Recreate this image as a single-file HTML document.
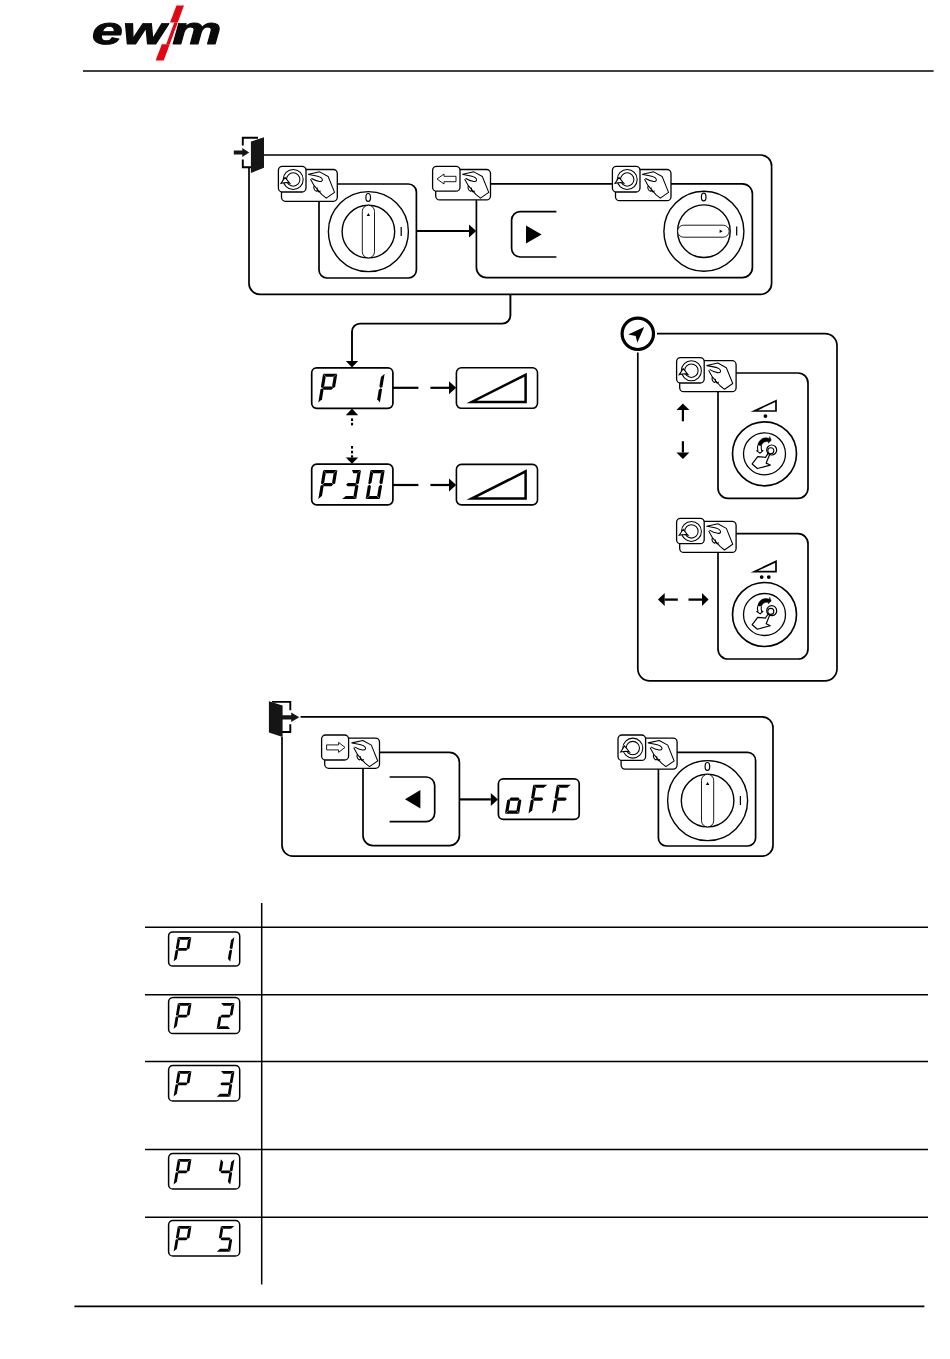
<!DOCTYPE html>
<html><head><meta charset="utf-8"><title>ewm</title>
<style>html,body{margin:0;padding:0;background:#fff;}body{width:950px;height:1359px;overflow:hidden;font-family:"Liberation Sans",sans-serif;}svg{display:block;}</style>
</head><body>
<svg width="950" height="1359" viewBox="0 0 950 1359">
<rect width="950" height="1359" fill="#fff"/>
<g id="logo">
<path transform="translate(91.80,44.00) scale(0.02723,-0.01904)" d="M358 476Q351 438 351 387Q351 281 397.5 224.5Q444 168 535 168Q682 168 748 337L993 263Q918 104 807.0 42.0Q696 -20 516 -20Q303 -20 183.0 95.5Q63 211 63 418Q63 625 135.0 780.5Q207 936 339.5 1019.0Q472 1102 646 1102Q855 1102 968.5 994.5Q1082 887 1082 691Q1082 592 1058 476ZM822 663 825 719Q825 826 775.5 875.0Q726 924 646 924Q550 924 484.5 857.5Q419 791 391 663Z" fill="#0a0a0a" stroke="#0a0a0a" stroke-width="47.3" stroke-linejoin="round"/>
<path transform="translate(122.82,44.00) scale(0.02723,-0.01904)" d="M1207 0H910L867 660L862 890Q809 748 767 658L465 0H168L99 1082H357L371 386V255L398 323L450 446L744 1082H1045L1087 446L1092 255L1145 387L1436 1082H1702Z" fill="#0a0a0a" stroke="#0a0a0a" stroke-width="47.3" stroke-linejoin="round"/>
<path transform="translate(172.20,44.00) scale(0.02704,-0.01904)" d="M1322 892Q1231 892 1164.0 815.0Q1097 738 1071 607L952 0H673L796 635Q813 726 813 771Q813 892 687 892Q599 892 530.5 816.5Q462 741 435 604L317 0H35L201 851Q221 946 240 1082H512Q512 1071 501.5 1004.5Q491 938 484 897H487Q564 1013 638.5 1057.0Q713 1101 815 1101Q939 1101 1011.0 1041.5Q1083 982 1097 869Q1177 994 1259.5 1047.5Q1342 1101 1451 1101Q1589 1101 1662.5 1028.0Q1736 955 1736 817Q1736 753 1715 653L1587 0H1308L1430 627Q1448 717 1448 766V771Q1445 892 1322 892Z" fill="#0a0a0a" stroke="#0a0a0a" stroke-width="47.3" stroke-linejoin="round"/>
<polygon points="176.50,5.50 184.30,5.50 164.00,60.60 155.60,60.60" fill="#fff" stroke="none" stroke-width="0"/>
<polygon points="176.50,5.50 184.00,5.50 177.70,22.60 170.01,22.60" fill="#e30613" stroke="none" stroke-width="0"/>
<polygon points="174.24,22.60 177.70,22.60 169.74,44.20 166.18,44.20" fill="#e30613" stroke="none" stroke-width="0"/>
<polygon points="161.82,44.20 169.74,44.20 163.70,60.60 155.60,60.60" fill="#e30613" stroke="none" stroke-width="0"/>
</g>
<line x1="83.00" y1="71.00" x2="933.60" y2="71.00" stroke="#000" stroke-width="1.6" />
<g id="top">
<path d="M264 155 H760.6 A11 11 0 0 1 771.6 166 V283.4 A11 11 0 0 1 760.6 294.4 H260 A11 11 0 0 1 249 283.4 V168" fill="none" stroke="#000" stroke-width="1.7" />
<path d="M258 137.8 H242.8 V145.4 M242.8 159.6 V167.2 H252" fill="none" stroke="#000" stroke-width="1.9" />
<polygon points="250.90,141.60 264.00,137.20 264.00,167.70 250.90,172.90" fill="#151515" stroke="none" stroke-width="0"/>
<polygon points="233.80,150.40 242.30,150.40 242.30,148.00 249.20,152.50 242.30,157.00 242.30,154.60 233.80,154.60" fill="#151515" stroke="none" stroke-width="0"/>
<path d="M337 184 H408.4 A8 8 0 0 1 416.4 192 V270 A8 8 0 0 1 408.4 278 H327 A8 8 0 0 1 319 270 V200" fill="none" stroke="#000" stroke-width="1.7" />
<rect x="281.50" y="169.50" width="55.80" height="31.80" rx="4" ry="4" fill="#fff" stroke="#000" stroke-width="1.3"/><rect x="278.40" y="166.40" width="27.60" height="25.60" rx="4" ry="4" fill="#fff" stroke="#000" stroke-width="1.3"/><circle cx="293.20" cy="179.50" r="10" fill="none" stroke="#000" stroke-width="1.05"/><circle cx="293.20" cy="179.50" r="6.7" fill="none" stroke="#000" stroke-width="1.05"/><path d="M281.00 183.40 L285.00 177.40 L289.80 183.40 L287.00 182.60 L283.80 182.80 Z" fill="#fff" stroke="#000" stroke-width="1.05" /><path d="M308.61 174.28 L319.66 171.85 L328.14 176.50 L334.55 192.34 L326.30 198.09 L321.88 194.55 L314.14 185.71 L310.67 179.44 M308.61 174.43 C312.30 175.39 317.45 175.39 320.77 177.45 C323.50 179.44 322.61 181.87 319.52 181.43 C316.72 180.99 313.77 179.81 311.71 178.48 M314.14 185.71 C313.18 187.92 314.36 190.72 316.35 191.31 L317.60 189.98 M317.31 188.06 C316.86 189.98 317.75 191.75 319.07 192.04 L320.25 191.01" fill="none" stroke="#000" stroke-width="1.05" stroke-linejoin="round" stroke-linecap="round"/>
<circle cx="368.4" cy="231.6" r="40" fill="#fff" stroke="#000" stroke-width="1.4"/><circle cx="368.4" cy="231.6" r="26.3" fill="#fff" stroke="#000" stroke-width="1.4"/><rect x="362.30" y="205.30" width="12.2" height="52.6" rx="6.1" fill="#fff" stroke="#000" stroke-width="0.9"/><polygon points="366.70,215.90 368.40,212.90 370.10,215.90" fill="#000" stroke="none" stroke-width="0"/><ellipse cx="368.2" cy="197.40" rx="2.3" ry="3.9" fill="none" stroke="#000" stroke-width="1.2"/><line x1="401.20" y1="227.00" x2="401.20" y2="236.00" stroke="#000" stroke-width="1.25" />
<line x1="416.40" y1="231.00" x2="469.00" y2="231.00" stroke="#000" stroke-width="2.2" /><polygon points="476.20,231.00 469.00,224.50 469.00,237.50" fill="#000" stroke="none" stroke-width="0"/>
<path d="M490 183.8 H742.4 A10 10 0 0 1 752.4 193.8 V267.6 A10 10 0 0 1 742.4 277.6 H486.4 A10 10 0 0 1 476.4 267.6 V199" fill="none" stroke="#000" stroke-width="1.7" />
<rect x="435.70" y="169.50" width="54.80" height="30.40" rx="4" ry="4" fill="#fff" stroke="#000" stroke-width="1.3"/><rect x="432.60" y="166.40" width="27.40" height="24.80" rx="4" ry="4" fill="#fff" stroke="#000" stroke-width="1.3"/><path d="M437.00 179.00 L444.00 174.00 L444.00 176.30 L456.00 176.30 L456.00 181.70 L444.00 181.70 L444.00 184.00 Z" fill="#fff" stroke="#000" stroke-width="0.9" /><path d="M462.81 174.28 L473.86 171.85 L482.34 176.50 L488.75 192.34 L480.50 198.09 L476.08 194.55 L468.34 185.71 L464.87 179.44 M462.81 174.43 C466.50 175.39 471.65 175.39 474.97 177.45 C477.70 179.44 476.81 181.87 473.72 181.43 C470.92 180.99 467.97 179.81 465.91 178.48 M468.34 185.71 C467.38 187.92 468.56 190.72 470.55 191.31 L471.80 189.98 M471.51 188.06 C471.06 189.98 471.95 191.75 473.27 192.04 L474.45 191.01" fill="none" stroke="#000" stroke-width="1.05" stroke-linejoin="round" stroke-linecap="round"/>
<rect x="615.50" y="169.50" width="55.50" height="31.20" rx="4" ry="4" fill="#fff" stroke="#000" stroke-width="1.3"/><rect x="612.40" y="166.40" width="27.60" height="25.60" rx="4" ry="4" fill="#fff" stroke="#000" stroke-width="1.3"/><circle cx="627.20" cy="179.50" r="10" fill="none" stroke="#000" stroke-width="1.05"/><circle cx="627.20" cy="179.50" r="6.7" fill="none" stroke="#000" stroke-width="1.05"/><path d="M615.00 183.40 L619.00 177.40 L623.80 183.40 L621.00 182.60 L617.80 182.80 Z" fill="#fff" stroke="#000" stroke-width="1.05" /><path d="M642.61 174.28 L653.66 171.85 L662.14 176.50 L668.55 192.34 L660.30 198.09 L655.88 194.55 L648.14 185.71 L644.67 179.44 M642.61 174.43 C646.30 175.39 651.45 175.39 654.77 177.45 C657.50 179.44 656.61 181.87 653.52 181.43 C650.72 180.99 647.77 179.81 645.71 178.48 M648.14 185.71 C647.18 187.92 648.36 190.72 650.35 191.31 L651.60 189.98 M651.31 188.06 C650.86 189.98 651.75 191.75 653.07 192.04 L654.25 191.01" fill="none" stroke="#000" stroke-width="1.05" stroke-linejoin="round" stroke-linecap="round"/>
<path d="M556.4 211.6 H520.1 A8.5 8.5 0 0 0 511.6 220.1 V248.5 A8.5 8.5 0 0 0 520.1 257 H556.4" fill="none" stroke="#000" stroke-width="1.7" />
<polygon points="526.00,225.60 541.60,234.60 526.00,243.60" fill="#000" stroke="none" stroke-width="0"/>
<circle cx="703.9" cy="231.2" r="40" fill="#fff" stroke="#000" stroke-width="1.4"/><circle cx="703.9" cy="231.2" r="26.3" fill="#fff" stroke="#000" stroke-width="1.4"/><rect x="677.60" y="225.20" width="51.6" height="12" rx="6" fill="#fff" stroke="#000" stroke-width="0.9"/><polygon points="719.60,229.50 722.60,231.20 719.60,232.90" fill="#000" stroke="none" stroke-width="0"/><ellipse cx="703.6999999999999" cy="197.00" rx="2.3" ry="3.9" fill="none" stroke="#000" stroke-width="1.2"/><line x1="736.70" y1="226.60" x2="736.70" y2="235.60" stroke="#000" stroke-width="1.25" />
</g>
<g id="mid">
<path d="M510.4 294.4 V315.6 A8 8 0 0 1 502.4 323.6 H360 A8 8 0 0 0 352 331.6 V361" fill="none" stroke="#000" stroke-width="1.9" />
<polygon points="352.00,367.40 345.80,361.00 358.20,361.00" fill="#000" stroke="none" stroke-width="0"/>
<rect x="311.70" y="367.90" width="81.20" height="40.40" rx="4.950980392156863" ry="4.950980392156863" fill="#fff" stroke="#000" stroke-width="1.7"/><polygon points="323.28,373.64 337.17,373.64 333.47,376.81 325.92,376.81" fill="#000" stroke="none" stroke-width="0"/><polygon points="337.32,373.82 335.13,386.97 333.38,387.92 332.06,386.34 333.62,376.99" fill="#000" stroke="none" stroke-width="0"/><polygon points="318.31,402.38 320.50,389.23 322.24,388.28 323.56,389.86 322.00,399.21" fill="#000" stroke="none" stroke-width="0"/><polygon points="323.07,373.82 320.88,386.97 322.30,387.92 324.15,386.34 325.71,376.99" fill="#000" stroke="none" stroke-width="0"/><polygon points="322.45,388.10 324.30,386.52 331.85,386.52 333.17,388.10 331.32,389.68 323.77,389.68" fill="#000" stroke="none" stroke-width="0"/><polygon points="384.65,373.82 382.45,386.97 380.71,387.92 379.39,386.34 380.95,376.99" fill="#000" stroke="none" stroke-width="0"/><polygon points="379.88,402.38 382.07,389.23 380.65,388.28 378.80,389.86 377.24,399.21" fill="#000" stroke="none" stroke-width="0"/>
<rect x="311.70" y="464.20" width="81.20" height="40.70" rx="4.987745098039216" ry="4.987745098039216" fill="#fff" stroke="#000" stroke-width="1.7"/><polygon points="323.32,469.99 337.21,469.99 333.48,473.18 325.98,473.18" fill="#000" stroke="none" stroke-width="0"/><polygon points="337.36,470.17 335.15,483.41 333.39,484.37 332.06,482.77 333.63,473.36" fill="#000" stroke="none" stroke-width="0"/><polygon points="318.31,498.93 320.52,485.69 322.27,484.73 323.60,486.33 322.03,495.74" fill="#000" stroke="none" stroke-width="0"/><polygon points="323.11,470.17 320.90,483.41 322.33,484.37 324.20,482.77 325.77,473.36" fill="#000" stroke="none" stroke-width="0"/><polygon points="322.48,484.55 324.35,482.95 331.85,482.95 333.18,484.55 331.32,486.15 323.81,486.15" fill="#000" stroke="none" stroke-width="0"/><polygon points="351.93,469.99 360.87,469.99 357.14,473.18 353.31,473.18" fill="#000" stroke="none" stroke-width="0"/><polygon points="361.02,470.17 358.81,483.41 357.05,484.37 355.72,482.77 357.29,473.36" fill="#000" stroke="none" stroke-width="0"/><polygon points="346.15,484.55 348.01,482.95 355.51,482.95 356.84,484.55 354.98,486.15 347.48,486.15" fill="#000" stroke="none" stroke-width="0"/><polygon points="356.22,498.93 358.43,485.69 356.99,484.73 355.13,486.33 353.56,495.74" fill="#000" stroke="none" stroke-width="0"/><polygon points="342.12,499.11 356.01,499.11 353.35,495.92 345.84,495.92" fill="#000" stroke="none" stroke-width="0"/><polygon points="370.65,469.99 384.53,469.99 380.81,473.18 373.30,473.18" fill="#000" stroke="none" stroke-width="0"/><polygon points="384.68,470.17 382.47,483.41 380.71,484.37 379.38,482.77 380.96,473.36" fill="#000" stroke="none" stroke-width="0"/><polygon points="379.88,498.93 382.09,485.69 380.65,484.73 378.79,486.33 377.22,495.74" fill="#000" stroke="none" stroke-width="0"/><polygon points="365.78,499.11 379.67,499.11 377.01,495.92 369.51,495.92" fill="#000" stroke="none" stroke-width="0"/><polygon points="365.63,498.93 367.84,485.69 369.60,484.73 370.93,486.33 369.36,495.74" fill="#000" stroke="none" stroke-width="0"/><polygon points="370.44,470.17 368.22,483.41 369.66,484.37 371.52,482.77 373.09,473.36" fill="#000" stroke="none" stroke-width="0"/>
<polygon points="352.00,408.60 345.80,415.20 358.20,415.20" fill="#000" stroke="none" stroke-width="0"/>
<rect x="351" y="418.4" width="2.1" height="2.60" fill="#000"/>
<rect x="351" y="422.8" width="2.1" height="2.60" fill="#000"/>
<rect x="351" y="446.0" width="2.1" height="2.60" fill="#000"/>
<rect x="351" y="450.8" width="2.1" height="2.60" fill="#000"/>
<rect x="351" y="455.3" width="2.1" height="2.30" fill="#000"/>
<polygon points="352.00,463.80 345.80,457.40 358.20,457.40" fill="#000" stroke="none" stroke-width="0"/>
<line x1="393.00" y1="387.80" x2="418.40" y2="387.80" stroke="#000" stroke-width="2.2" />
<line x1="430.40" y1="387.80" x2="449.00" y2="387.80" stroke="#000" stroke-width="2.2" /><polygon points="456.20,387.80 449.00,381.30 449.00,394.30" fill="#000" stroke="none" stroke-width="0"/>
<line x1="393.00" y1="485.00" x2="418.40" y2="485.00" stroke="#000" stroke-width="2.2" />
<line x1="430.40" y1="485.00" x2="449.00" y2="485.00" stroke="#000" stroke-width="2.2" /><polygon points="456.20,485.00 449.00,478.50 449.00,491.50" fill="#000" stroke="none" stroke-width="0"/>
<rect x="456.40" y="367.80" width="81.10" height="40.50" rx="5.0" ry="5.0" fill="#fff" stroke="#000" stroke-width="1.6"/><polygon points="471.70,402.00 525.60,402.00 525.60,374.80" fill="none" stroke="#000" stroke-width="2.5" stroke-miterlimit="12"/>
<rect x="456.40" y="464.40" width="81.10" height="40.50" rx="5.0" ry="5.0" fill="#fff" stroke="#000" stroke-width="1.6"/><polygon points="471.70,498.60 525.60,498.60 525.60,471.40" fill="none" stroke="#000" stroke-width="2.5" stroke-miterlimit="12"/>
</g>
<g id="nav">
<path d="M657 333.6 H825 A12 12 0 0 1 837 345.6 V668.8 A12 12 0 0 1 825 680.8 H649.8 A12 12 0 0 1 637.8 668.8 V352.6" fill="none" stroke="#000" stroke-width="1.7" />
<circle cx="637.8" cy="333.8" r="15.7" fill="#fff" stroke="#000" stroke-width="3.2"/>
<polygon points="644.20,327.00 628.20,334.40 635.70,336.00 637.30,342.80" fill="#000" stroke="none" stroke-width="0"/>
<path d="M736 373.00 H798 A10 10 0 0 1 808 383.00 V488.30 A10 10 0 0 1 798 498.30 H728 A10 10 0 0 1 718 488.30 V391.00" fill="none" stroke="#000" stroke-width="1.7" />
<rect x="679.70" y="360.70" width="56.40" height="31.00" rx="4" ry="4" fill="#fff" stroke="#000" stroke-width="1.3"/><rect x="676.60" y="357.60" width="27.60" height="25.40" rx="4" ry="4" fill="#fff" stroke="#000" stroke-width="1.3"/><circle cx="691.40" cy="370.70" r="10" fill="none" stroke="#000" stroke-width="1.05"/><circle cx="691.40" cy="370.70" r="6.7" fill="none" stroke="#000" stroke-width="1.05"/><path d="M679.20 374.60 L683.20 368.60 L688.00 374.60 L685.20 373.80 L682.00 374.00 Z" fill="#fff" stroke="#000" stroke-width="1.05" /><path d="M706.81 365.48 L717.86 363.05 L726.34 367.70 L732.75 383.54 L724.50 389.29 L720.08 385.75 L712.34 376.91 L708.87 370.64 M706.81 365.63 C710.50 366.59 715.65 366.59 718.97 368.65 C721.70 370.64 720.81 373.07 717.72 372.63 C714.92 372.19 711.97 371.01 709.91 369.68 M712.34 376.91 C711.38 379.12 712.56 381.92 714.55 382.51 L715.80 381.18 M715.51 379.26 C715.06 381.18 715.95 382.95 717.27 383.24 L718.45 382.21" fill="none" stroke="#000" stroke-width="1.05" stroke-linejoin="round" stroke-linecap="round"/>
<circle cx="764.5" cy="453.8" r="32" fill="#fff" stroke="#000" stroke-width="1.65"/><circle cx="764.5" cy="453.8" r="21" fill="#fff" stroke="#000" stroke-width="1.3"/><path d="M757.73 456.61 L752.21 463.98 L757.36 468.54 L770.26 465.08 L766.21 463.09 L770.26 452.92 L768.79 452.33 L765.47 457.34 Z" fill="#fff" stroke="#000" stroke-width="1.2" stroke-linejoin="round"/><circle cx="771.70" cy="450.00" r="5.0" fill="none" stroke="#000" stroke-width="1.2"/><circle cx="770.80" cy="450.70" r="3.0" fill="#fff" stroke="#000" stroke-width="1.1"/><path d="M757.73 445.55 C758.10 442.61 759.57 440.40 761.79 438.92 C764.36 437.45 766.94 437.60 769.52 438.55 L769.67 436.56 L771.22 440.25 L768.27 443.20 L768.56 441.72 C766.57 441.28 764.73 441.72 763.26 442.75 C762.15 443.71 761.64 444.82 761.42 445.92 Z" fill="#000" stroke="#000" stroke-width="0.5" /><path d="M757.73 445.55 C757.22 447.40 757.36 448.87 757.95 450.34 L756.77 450.86 L760.16 453.22 L762.96 450.56 L761.64 450.56 C761.05 448.87 761.05 447.40 761.42 445.92" fill="#fff" stroke="#000" stroke-width="1.1" stroke-linejoin="round"/>
<path d="M736 533.70 H798 A10 10 0 0 1 808 543.70 V649.00 A10 10 0 0 1 798 659.00 H728 A10 10 0 0 1 718 649.00 V551.70" fill="none" stroke="#000" stroke-width="1.7" />
<rect x="679.70" y="521.40" width="56.40" height="31.00" rx="4" ry="4" fill="#fff" stroke="#000" stroke-width="1.3"/><rect x="676.60" y="518.30" width="27.60" height="25.40" rx="4" ry="4" fill="#fff" stroke="#000" stroke-width="1.3"/><circle cx="691.40" cy="531.40" r="10" fill="none" stroke="#000" stroke-width="1.05"/><circle cx="691.40" cy="531.40" r="6.7" fill="none" stroke="#000" stroke-width="1.05"/><path d="M679.20 535.30 L683.20 529.30 L688.00 535.30 L685.20 534.50 L682.00 534.70 Z" fill="#fff" stroke="#000" stroke-width="1.05" /><path d="M706.81 526.18 L717.86 523.75 L726.34 528.40 L732.75 544.24 L724.50 549.99 L720.08 546.45 L712.34 537.61 L708.87 531.34 M706.81 526.33 C710.50 527.29 715.65 527.29 718.97 529.35 C721.70 531.34 720.81 533.77 717.72 533.33 C714.92 532.89 711.97 531.71 709.91 530.38 M712.34 537.61 C711.38 539.82 712.56 542.62 714.55 543.21 L715.80 541.88 M715.51 539.96 C715.06 541.88 715.95 543.65 717.27 543.94 L718.45 542.91" fill="none" stroke="#000" stroke-width="1.05" stroke-linejoin="round" stroke-linecap="round"/>
<circle cx="764.5" cy="614.5" r="32" fill="#fff" stroke="#000" stroke-width="1.65"/><circle cx="764.5" cy="614.5" r="21" fill="#fff" stroke="#000" stroke-width="1.3"/><path d="M757.73 617.31 L752.21 624.68 L757.36 629.24 L770.26 625.78 L766.21 623.79 L770.26 613.62 L768.79 613.03 L765.47 618.04 Z" fill="#fff" stroke="#000" stroke-width="1.2" stroke-linejoin="round"/><circle cx="771.70" cy="610.70" r="5.0" fill="none" stroke="#000" stroke-width="1.2"/><circle cx="770.80" cy="611.40" r="3.0" fill="#fff" stroke="#000" stroke-width="1.1"/><path d="M757.73 606.25 C758.10 603.31 759.57 601.10 761.79 599.62 C764.36 598.15 766.94 598.30 769.52 599.25 L769.67 597.26 L771.22 600.95 L768.27 603.90 L768.56 602.42 C766.57 601.98 764.73 602.42 763.26 603.45 C762.15 604.41 761.64 605.52 761.42 606.62 Z" fill="#000" stroke="#000" stroke-width="0.5" /><path d="M757.73 606.25 C757.22 608.10 757.36 609.57 757.95 611.04 L756.77 611.56 L760.16 613.92 L762.96 611.26 L761.64 611.26 C761.05 609.57 761.05 608.10 761.42 606.62" fill="#fff" stroke="#000" stroke-width="1.1" stroke-linejoin="round"/>
<polygon points="754.40,411.00 776.00,411.00 776.00,400.80" fill="none" stroke="#000" stroke-width="1.7" stroke-miterlimit="12"/><circle cx="765.40" cy="416.10" r="1.9" fill="#000"/>
<polygon points="754.40,571.60 776.00,571.60 776.00,561.40" fill="none" stroke="#000" stroke-width="1.7" stroke-miterlimit="12"/><circle cx="761.70" cy="577.10" r="1.9" fill="#000"/><circle cx="768.80" cy="577.10" r="1.9" fill="#000"/>
<line x1="682.90" y1="421.30" x2="682.90" y2="410.00" stroke="#000" stroke-width="2.2" /><polygon points="682.90,403.60 676.45,410.00 689.35,410.00" fill="#000" stroke="none" stroke-width="0"/>
<line x1="682.90" y1="441.20" x2="682.90" y2="452.50" stroke="#000" stroke-width="2.2" /><polygon points="682.90,458.90 676.45,452.50 689.35,452.50" fill="#000" stroke="none" stroke-width="0"/>
<line x1="677.80" y1="599.60" x2="664.70" y2="599.60" stroke="#000" stroke-width="2.3" /><polygon points="657.90,599.60 664.70,593.10 664.70,606.10" fill="#000" stroke="none" stroke-width="0"/>
<line x1="688.50" y1="599.60" x2="702.00" y2="599.60" stroke="#000" stroke-width="2.3" /><polygon points="708.60,599.60 702.00,593.10 702.00,606.10" fill="#000" stroke="none" stroke-width="0"/>
</g>
<g id="bot">
<path d="M300.6 716.8 H762 A11 11 0 0 1 773 727.8 V845.2 A11 11 0 0 1 762 856.2 H293 A11 11 0 0 1 282 845.2 V737" fill="none" stroke="#000" stroke-width="1.7" />
<path d="M272 701.9 H290.3 V710.3 M290.3 724.3 V732 H282" fill="none" stroke="#000" stroke-width="1.9" />
<polygon points="268.90,701.20 282.60,705.50 282.60,736.90 268.90,732.40" fill="#151515" stroke="none" stroke-width="0"/>
<polygon points="282.00,715.30 291.20,715.30 291.20,712.50 299.30,717.30 291.20,722.10 291.20,719.50 282.00,719.50" fill="#151515" stroke="none" stroke-width="0"/>
<path d="M379 752.4 H449.4 A10 10 0 0 1 459.4 762.4 V835.6 A10 10 0 0 1 449.4 845.6 H373 A10 10 0 0 1 363 835.6 V767" fill="none" stroke="#000" stroke-width="1.7" />
<rect x="324.70" y="738.10" width="54.80" height="30.20" rx="4" ry="4" fill="#fff" stroke="#000" stroke-width="1.3"/><rect x="321.60" y="735.00" width="27.00" height="25.00" rx="4" ry="4" fill="#fff" stroke="#000" stroke-width="1.3"/><path d="M345.00 747.40 L338.60 742.40 L338.60 744.90 L326.60 744.90 L326.60 749.90 L338.60 749.90 L338.60 752.40 Z" fill="#fff" stroke="#000" stroke-width="0.9" /><path d="M351.81 742.88 L362.86 740.45 L371.34 745.10 L377.75 760.94 L369.50 766.69 L365.08 763.15 L357.34 754.31 L353.87 748.04 M351.81 743.03 C355.50 743.99 360.65 743.99 363.97 746.05 C366.70 748.04 365.81 750.47 362.72 750.03 C359.92 749.59 356.97 748.41 354.91 747.08 M357.34 754.31 C356.38 756.52 357.56 759.32 359.55 759.91 L360.80 758.58 M360.51 756.66 C360.06 758.58 360.95 760.35 362.27 760.64 L363.45 759.61" fill="none" stroke="#000" stroke-width="1.05" stroke-linejoin="round" stroke-linecap="round"/>
<path d="M389.6 777 H426.2 A8.5 8.5 0 0 1 434.7 785.5 V813.1 A8.5 8.5 0 0 1 426.2 821.6 H389.6" fill="none" stroke="#000" stroke-width="1.7" />
<polygon points="405.00,799.20 420.40,790.00 420.40,808.40" fill="#000" stroke="none" stroke-width="0"/>
<line x1="459.40" y1="799.40" x2="490.80" y2="799.40" stroke="#000" stroke-width="2.2" /><polygon points="498.00,799.40 490.80,792.90 490.80,805.90" fill="#000" stroke="none" stroke-width="0"/>
<rect x="498.40" y="778.90" width="80.80" height="40.50" rx="4.963235294117647" ry="4.963235294117647" fill="#fff" stroke="#000" stroke-width="1.7"/><polygon points="519.15,813.46 521.35,800.28 519.92,799.33 518.07,800.92 516.50,810.29" fill="#000" stroke="none" stroke-width="0"/><polygon points="505.12,813.64 518.94,813.64 516.29,810.47 508.83,810.47" fill="#000" stroke="none" stroke-width="0"/><polygon points="504.97,813.46 507.17,800.28 508.92,799.33 510.24,800.92 508.68,810.29" fill="#000" stroke="none" stroke-width="0"/><polygon points="509.13,799.15 510.99,797.56 518.45,797.56 519.77,799.15 517.92,800.74 510.45,800.74" fill="#000" stroke="none" stroke-width="0"/><polygon points="533.51,784.66 547.33,784.66 543.62,787.83 536.16,787.83" fill="#000" stroke="none" stroke-width="0"/><polygon points="528.52,813.46 530.72,800.28 532.47,799.33 533.79,800.92 532.23,810.29" fill="#000" stroke="none" stroke-width="0"/><polygon points="533.30,784.84 531.10,798.02 532.53,798.97 534.38,797.38 535.95,788.01" fill="#000" stroke="none" stroke-width="0"/><polygon points="532.68,799.15 534.53,797.56 542.00,797.56 543.32,799.15 541.47,800.74 534.00,800.74" fill="#000" stroke="none" stroke-width="0"/><polygon points="557.06,784.66 570.87,784.66 567.17,787.83 559.70,787.83" fill="#000" stroke="none" stroke-width="0"/><polygon points="552.07,813.46 554.27,800.28 556.01,799.33 557.34,800.92 555.77,810.29" fill="#000" stroke="none" stroke-width="0"/><polygon points="556.85,784.84 554.64,798.02 556.07,798.97 557.93,797.38 559.49,788.01" fill="#000" stroke="none" stroke-width="0"/><polygon points="556.22,799.15 558.08,797.56 565.54,797.56 566.86,799.15 565.01,800.74 557.55,800.74" fill="#000" stroke="none" stroke-width="0"/>
<path d="M676 752.4 H747.6 A8 8 0 0 1 755.6 760.4 V838 A8 8 0 0 1 747.6 846 H666.4 A8 8 0 0 1 658.4 838 V768" fill="none" stroke="#000" stroke-width="1.7" />
<rect x="621.10" y="738.10" width="56.00" height="31.00" rx="4" ry="4" fill="#fff" stroke="#000" stroke-width="1.3"/><rect x="618.00" y="735.00" width="27.60" height="25.40" rx="4" ry="4" fill="#fff" stroke="#000" stroke-width="1.3"/><circle cx="632.80" cy="748.10" r="10" fill="none" stroke="#000" stroke-width="1.05"/><circle cx="632.80" cy="748.10" r="6.7" fill="none" stroke="#000" stroke-width="1.05"/><path d="M620.60 752.00 L624.60 746.00 L629.40 752.00 L626.60 751.20 L623.40 751.40 Z" fill="#fff" stroke="#000" stroke-width="1.05" /><path d="M648.21 742.88 L659.26 740.45 L667.74 745.10 L674.15 760.94 L665.90 766.69 L661.48 763.15 L653.74 754.31 L650.27 748.04 M648.21 743.03 C651.90 743.99 657.05 743.99 660.37 746.05 C663.10 748.04 662.21 750.47 659.12 750.03 C656.32 749.59 653.37 748.41 651.31 747.08 M653.74 754.31 C652.78 756.52 653.96 759.32 655.95 759.91 L657.20 758.58 M656.91 756.66 C656.46 758.58 657.35 760.35 658.67 760.64 L659.85 759.61" fill="none" stroke="#000" stroke-width="1.05" stroke-linejoin="round" stroke-linecap="round"/>
<circle cx="707.6" cy="800.6" r="40" fill="#fff" stroke="#000" stroke-width="1.4"/><circle cx="707.6" cy="800.6" r="26.3" fill="#fff" stroke="#000" stroke-width="1.4"/><rect x="701.50" y="774.30" width="12.2" height="52.6" rx="6.1" fill="#fff" stroke="#000" stroke-width="0.9"/><polygon points="705.90,784.90 707.60,781.90 709.30,784.90" fill="#000" stroke="none" stroke-width="0"/><ellipse cx="707.4" cy="766.40" rx="2.3" ry="3.9" fill="none" stroke="#000" stroke-width="1.2"/><line x1="740.40" y1="796.00" x2="740.40" y2="805.00" stroke="#000" stroke-width="1.25" />
</g>
<g id="table">
<line x1="261.70" y1="903.00" x2="261.70" y2="1284.60" stroke="#000" stroke-width="1.5" />
<line x1="145.00" y1="927.20" x2="928.00" y2="927.20" stroke="#000" stroke-width="1.5" />
<line x1="145.00" y1="994.70" x2="928.00" y2="994.70" stroke="#000" stroke-width="1.5" />
<line x1="145.00" y1="1061.50" x2="928.00" y2="1061.50" stroke="#000" stroke-width="1.5" />
<line x1="145.00" y1="1149.50" x2="928.00" y2="1149.50" stroke="#000" stroke-width="1.5" />
<line x1="145.00" y1="1217.20" x2="928.00" y2="1217.20" stroke="#000" stroke-width="1.5" />
<rect x="168.60" y="931.90" width="71.10" height="34.20" rx="4.1911764705882355" ry="4.1911764705882355" fill="#fff" stroke="#000" stroke-width="1.5"/><polygon points="177.91,937.07 191.15,937.07 187.88,939.87 180.24,939.87" fill="#000" stroke="none" stroke-width="0"/><polygon points="191.30,937.25 189.43,948.41 187.89,949.25 186.73,947.85 188.03,940.05" fill="#000" stroke="none" stroke-width="0"/><polygon points="173.63,961.61 175.49,950.45 177.03,949.61 178.20,951.01 176.90,958.81" fill="#000" stroke="none" stroke-width="0"/><polygon points="177.70,937.25 175.83,948.41 177.09,949.25 178.73,947.85 180.03,940.05" fill="#000" stroke="none" stroke-width="0"/><polygon points="177.24,949.43 178.88,948.03 186.52,948.03 187.68,949.43 186.05,950.83 178.41,950.83" fill="#000" stroke="none" stroke-width="0"/><polygon points="234.30,937.25 232.43,948.41 230.89,949.25 229.73,947.85 231.03,940.05" fill="#000" stroke="none" stroke-width="0"/><polygon points="230.23,961.61 232.09,950.45 230.83,949.61 229.20,951.01 227.90,958.81" fill="#000" stroke="none" stroke-width="0"/>
<rect x="168.60" y="997.60" width="71.10" height="36.00" rx="4.411764705882353" ry="4.411764705882353" fill="#fff" stroke="#000" stroke-width="1.5"/><polygon points="178.12,1003.05 191.36,1003.05 188.10,1005.85 180.46,1005.85" fill="#000" stroke="none" stroke-width="0"/><polygon points="191.51,1003.23 189.54,1015.03 188.00,1015.87 186.84,1014.47 188.25,1006.03" fill="#000" stroke="none" stroke-width="0"/><polygon points="173.63,1028.88 175.60,1017.07 177.14,1016.23 178.31,1017.63 176.90,1026.08" fill="#000" stroke="none" stroke-width="0"/><polygon points="177.91,1003.23 175.94,1015.03 177.20,1015.87 178.84,1014.47 180.25,1006.03" fill="#000" stroke="none" stroke-width="0"/><polygon points="177.35,1016.05 178.99,1014.65 186.63,1014.65 187.79,1016.05 186.16,1017.45 178.52,1017.45" fill="#000" stroke="none" stroke-width="0"/><polygon points="221.12,1003.05 234.36,1003.05 231.10,1005.85 223.46,1005.85" fill="#000" stroke="none" stroke-width="0"/><polygon points="234.51,1003.23 232.54,1015.03 231.00,1015.87 229.84,1014.47 231.25,1006.03" fill="#000" stroke="none" stroke-width="0"/><polygon points="220.35,1016.05 221.99,1014.65 229.63,1014.65 230.79,1016.05 229.16,1017.45 221.52,1017.45" fill="#000" stroke="none" stroke-width="0"/><polygon points="216.63,1028.88 218.60,1017.07 220.14,1016.23 221.31,1017.63 219.90,1026.08" fill="#000" stroke="none" stroke-width="0"/><polygon points="216.78,1029.06 230.02,1029.06 227.69,1026.26 220.05,1026.26" fill="#000" stroke="none" stroke-width="0"/>
<rect x="168.60" y="1065.60" width="71.10" height="35.50" rx="4.3504901960784315" ry="4.3504901960784315" fill="#fff" stroke="#000" stroke-width="1.5"/><polygon points="178.06,1070.97 191.30,1070.97 188.04,1073.77 180.40,1073.77" fill="#000" stroke="none" stroke-width="0"/><polygon points="191.45,1071.15 189.51,1082.78 187.97,1083.62 186.81,1082.22 188.19,1073.95" fill="#000" stroke="none" stroke-width="0"/><polygon points="173.63,1096.45 175.57,1084.82 177.11,1083.98 178.28,1085.38 176.90,1093.65" fill="#000" stroke="none" stroke-width="0"/><polygon points="177.85,1071.15 175.91,1082.78 177.17,1083.62 178.81,1082.22 180.19,1073.95" fill="#000" stroke="none" stroke-width="0"/><polygon points="177.32,1083.80 178.96,1082.40 186.60,1082.40 187.76,1083.80 186.13,1085.20 178.49,1085.20" fill="#000" stroke="none" stroke-width="0"/><polygon points="221.06,1070.97 234.30,1070.97 231.04,1073.77 223.40,1073.77" fill="#000" stroke="none" stroke-width="0"/><polygon points="234.45,1071.15 232.51,1082.78 230.97,1083.62 229.81,1082.22 231.19,1073.95" fill="#000" stroke="none" stroke-width="0"/><polygon points="220.32,1083.80 221.96,1082.40 229.60,1082.40 230.76,1083.80 229.13,1085.20 221.49,1085.20" fill="#000" stroke="none" stroke-width="0"/><polygon points="230.23,1096.45 232.17,1084.82 230.91,1083.98 229.28,1085.38 227.90,1093.65" fill="#000" stroke="none" stroke-width="0"/><polygon points="216.78,1096.63 230.02,1096.63 227.69,1093.83 220.05,1093.83" fill="#000" stroke="none" stroke-width="0"/>
<rect x="168.60" y="1153.60" width="71.10" height="35.50" rx="4.3504901960784315" ry="4.3504901960784315" fill="#fff" stroke="#000" stroke-width="1.5"/><polygon points="178.06,1158.97 191.30,1158.97 188.04,1161.77 180.40,1161.77" fill="#000" stroke="none" stroke-width="0"/><polygon points="191.45,1159.15 189.51,1170.78 187.97,1171.62 186.81,1170.22 188.19,1161.95" fill="#000" stroke="none" stroke-width="0"/><polygon points="173.63,1184.45 175.57,1172.82 177.11,1171.98 178.28,1173.38 176.90,1181.65" fill="#000" stroke="none" stroke-width="0"/><polygon points="177.85,1159.15 175.91,1170.78 177.17,1171.62 178.81,1170.22 180.19,1161.95" fill="#000" stroke="none" stroke-width="0"/><polygon points="177.32,1171.80 178.96,1170.40 186.60,1170.40 187.76,1171.80 186.13,1173.20 178.49,1173.20" fill="#000" stroke="none" stroke-width="0"/><polygon points="220.85,1159.15 218.91,1170.78 220.17,1171.62 221.81,1170.22 223.19,1161.95" fill="#000" stroke="none" stroke-width="0"/><polygon points="220.32,1171.80 221.96,1170.40 229.60,1170.40 230.76,1171.80 229.13,1173.20 221.49,1173.20" fill="#000" stroke="none" stroke-width="0"/><polygon points="234.45,1159.15 232.51,1170.78 230.97,1171.62 229.81,1170.22 231.19,1161.95" fill="#000" stroke="none" stroke-width="0"/><polygon points="230.23,1184.45 232.17,1172.82 230.91,1171.98 229.28,1173.38 227.90,1181.65" fill="#000" stroke="none" stroke-width="0"/>
<rect x="168.60" y="1220.60" width="71.10" height="35.50" rx="4.3504901960784315" ry="4.3504901960784315" fill="#fff" stroke="#000" stroke-width="1.5"/><polygon points="178.06,1225.97 191.30,1225.97 188.04,1228.77 180.40,1228.77" fill="#000" stroke="none" stroke-width="0"/><polygon points="191.45,1226.15 189.51,1237.78 187.97,1238.62 186.81,1237.22 188.19,1228.95" fill="#000" stroke="none" stroke-width="0"/><polygon points="173.63,1251.45 175.57,1239.82 177.11,1238.98 178.28,1240.38 176.90,1248.65" fill="#000" stroke="none" stroke-width="0"/><polygon points="177.85,1226.15 175.91,1237.78 177.17,1238.62 178.81,1237.22 180.19,1228.95" fill="#000" stroke="none" stroke-width="0"/><polygon points="177.32,1238.80 178.96,1237.40 186.60,1237.40 187.76,1238.80 186.13,1240.20 178.49,1240.20" fill="#000" stroke="none" stroke-width="0"/><polygon points="221.06,1225.97 234.30,1225.97 231.04,1228.77 223.40,1228.77" fill="#000" stroke="none" stroke-width="0"/><polygon points="220.85,1226.15 218.91,1237.78 220.17,1238.62 221.81,1237.22 223.19,1228.95" fill="#000" stroke="none" stroke-width="0"/><polygon points="220.32,1238.80 221.96,1237.40 229.60,1237.40 230.76,1238.80 229.13,1240.20 221.49,1240.20" fill="#000" stroke="none" stroke-width="0"/><polygon points="230.23,1251.45 232.17,1239.82 230.91,1238.98 229.28,1240.38 227.90,1248.65" fill="#000" stroke="none" stroke-width="0"/><polygon points="216.78,1251.63 230.02,1251.63 227.69,1248.83 220.05,1248.83" fill="#000" stroke="none" stroke-width="0"/>
</g>
<line x1="74.40" y1="1306.40" x2="924.40" y2="1306.40" stroke="#000" stroke-width="1.6" />
</svg>
</body></html>
